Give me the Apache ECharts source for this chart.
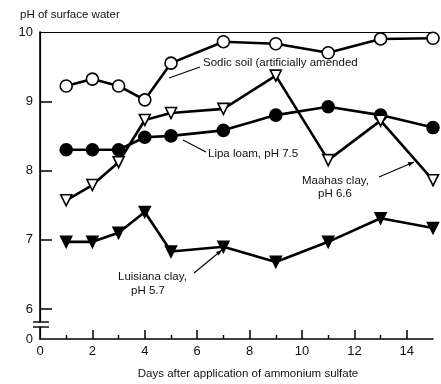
<!DOCTYPE html>
<html>
<head>
<meta charset="utf-8">
<script src="https://cdn.jsdelivr.net/npm/echarts@6/dist/echarts.min.js"></script>
<style>html,body{margin:0;padding:0;background:#fff;}#c{width:441px;height:384px;}</style>
</head>
<body>
<div id="c"></div>
<script>
const days = [1, 2, 3, 4, 5, 7, 9, 11, 13, 15];
const sodic = [9.22, 9.32, 9.22, 9.02, 9.55, 9.86, 9.83, 9.70, 9.90, 9.91];
const lipa = [8.30, 8.30, 8.30, 8.48, 8.50, 8.58, 8.80, 8.92, 8.80, 8.62];
const maahas = [7.57, 7.79, 8.12, 8.73, 8.83, 8.89, 9.37, 8.15, 8.72, 7.86];
const luisiana = [6.97, 6.97, 7.10, 7.40, 6.83, 6.90, 6.68, 6.97, 7.31, 7.17];
const xMajorTicks = [0, 2, 4, 6, 8, 10, 12, 14];
const xMinorTicks = [1, 3, 5, 7, 9, 11, 13];
const yBreakMin = 5.567;
const yTicks = [6, 7, 8, 9];
const yLabels = [yBreakMin, 6, 7, 8, 9, 10];

const FONT = '"Liberation Sans", Arial, sans-serif';
const pair = arr => days.map((d, i) => [d, arr[i]]);
const baseSeries = (name, arr, symbol, fill, size, rotate) => ({
  name, type: 'line', data: pair(arr), xAxisIndex: 0, yAxisIndex: 0,
  symbol, symbolSize: size, symbolRotate: rotate || 0,
  lineStyle: { color: '#000', width: 2.6 },
  itemStyle: { color: fill, borderColor: '#000', borderWidth: 1.6 },
  showAllSymbol: true, animation: false, z: 3
});

const chart = echarts.init(document.getElementById('c'), null, { renderer: 'canvas' });
const txt = (text, x, y, align) => ({
  type: 'text', x, y, z: 10,
  style: { text, fill: '#111', font: '11.5px ' + FONT, textAlign: align || 'left', textVerticalAlign: 'middle' }
});
const line = (x1, y1, x2, y2, w) => ({
  type: 'line', z: 10, shape: { x1, y1, x2, y2 }, style: { stroke: '#000', lineWidth: w || 1.1 }
});
const arrowHead = (x1, y1, x2, y2) => {
  const a = Math.atan2(y2 - y1, x2 - x1), L = 6, W = 2.2;
  const bx = x2 - L * Math.cos(a), by = y2 - L * Math.sin(a);
  return { type: 'polygon', z: 10, shape: { points: [[x2, y2], [bx + W * Math.sin(a), by - W * Math.cos(a)], [bx - W * Math.sin(a), by + W * Math.cos(a)]] }, style: { fill: '#000' } };
};

chart.setOption({
  animation: false,
  grid: { left: 40, right: 8, top: 32, bottom: 45 },
  xAxis: [
    {
      type: 'value', min: 0, max: 15, interval: 2, position: 'bottom',
      axisLine: { show: true, lineStyle: { color: '#000', width: 1.6 } },
      axisTick: { show: true, inside: true, length: 9, customValues: xMajorTicks.slice(1), lineStyle: { color: '#000', width: 1.5 } },
      axisLabel: { customValues: xMajorTicks, color: '#111', fontSize: 13, fontFamily: FONT, margin: 6 },
      splitLine: { show: false }
    },
    {
      type: 'value', min: 0, max: 15, position: 'bottom',
      axisLine: { show: false },
      axisTick: { show: true, inside: true, length: 4, customValues: xMinorTicks, lineStyle: { color: '#000', width: 1.4 } },
      axisLabel: { show: false }, splitLine: { show: false }
    },
    {
      type: 'value', min: 0, max: 15, position: 'top',
      axisLine: { show: true, lineStyle: { color: '#000', width: 1.2 } },
      axisTick: { show: false }, axisLabel: { show: false }, splitLine: { show: false }
    }
  ],
  yAxis: [
    {
      type: 'value', min: yBreakMin, max: 10, position: 'left',
      axisLine: { show: true, lineStyle: { color: '#000', width: 1.6 } },
      axisTick: { show: true, inside: true, length: 12, customValues: yTicks, lineStyle: { color: '#000', width: 1.5 } },
      axisLabel: {
        customValues: yLabels, color: '#111', fontSize: 13, fontFamily: FONT, margin: 7,
        formatter: v => (v < 5.9 ? '0' : String(Math.round(v)))
      },
      splitLine: { show: false }
    },
    {
      type: 'value', min: yBreakMin, max: 10, position: 'right',
      axisLine: { show: true, lineStyle: { color: '#000', width: 1.2 } },
      axisTick: { show: false }, axisLabel: { show: false }, splitLine: { show: false }
    }
  ],
  series: [
    baseSeries('Sodic soil', sodic, 'circle', '#fff', 12),
    baseSeries('Lipa loam', lipa, 'circle', '#000', 12),
    baseSeries('Maahas clay', maahas, 'triangle', '#fff', 11, 180),
    baseSeries('Luisiana clay', luisiana, 'triangle', '#000', 11, 180)
  ],
  graphic: [
    txt('pH of surface water', 20, 15),
    txt('Days after application of ammonium sulfate', 248, 374, 'center'),
    // axis break
    { type: 'rect', z: 20, shape: { x: 36, y: 322.5, width: 8, height: 4 }, style: { fill: '#fff' } },
    { type: 'line', z: 21, shape: { x1: 33, y1: 322, x2: 49, y2: 322 }, style: { stroke: '#000', lineWidth: 1.4 } },
    { type: 'line', z: 21, shape: { x1: 33, y1: 327, x2: 49, y2: 327 }, style: { stroke: '#000', lineWidth: 1.4 } },
    // annotations
    txt('Sodic soil (artificially amended', 203, 63),
    line(200, 67, 169, 78),
    txt('Lipa loam, pH 7.5', 208, 154),
    line(206, 152, 183, 140),
    txt('Maahas clay,', 302, 181),
    txt('pH 6.6', 318, 194),
    line(379, 177, 414, 162), arrowHead(379, 177, 414, 162),
    txt('Luisiana clay,', 118, 277),
    txt('pH 5.7', 131, 291),
    line(194, 273, 222, 250), arrowHead(194, 273, 222, 250)
  ]
});
</script>
</body>
</html>
